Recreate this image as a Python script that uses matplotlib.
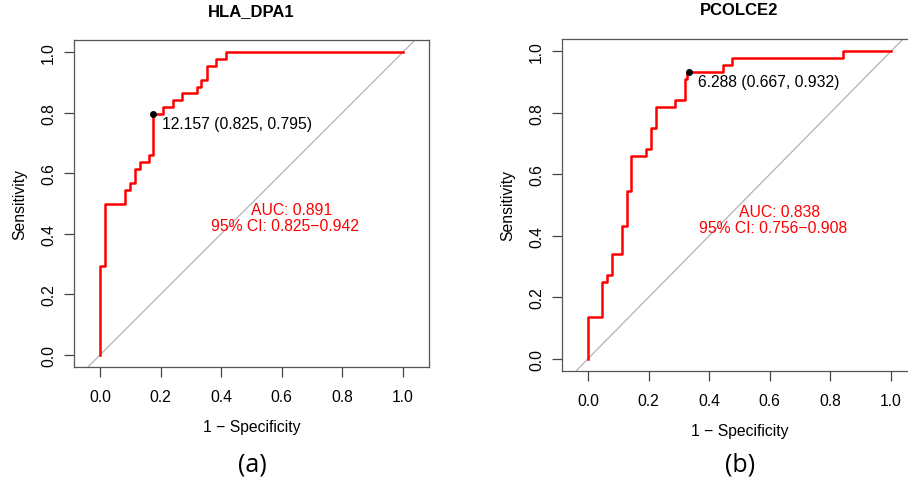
import matplotlib.pyplot as plt

plt.rcParams['font.family'] = ['Liberation Sans', 'DejaVu Sans']

# ROC curve HLA_DPA1 (1 - specificity, sensitivity)
hla_fpr = [0, 0, 0.0165, 0.0825, 0.099, 0.1155, 0.132, 0.163, 0.176, 0.207,
           0.24, 0.27, 0.319, 0.332, 0.352, 0.383, 0.415, 1.0]
hla_tpr = [0, 0.295, 0.5, 0.545, 0.568, 0.614, 0.636, 0.659, 0.795, 0.818,
           0.841, 0.864, 0.886, 0.909, 0.955, 0.977, 1.0, 1.0]

# ROC curve PCOLCE2
pco_fpr = [0, 0, 0.047, 0.062, 0.078, 0.111, 0.128, 0.142, 0.191, 0.207,
           0.223, 0.287, 0.32, 0.328, 0.444, 0.476, 0.843, 1.0]
pco_tpr = [0, 0.136, 0.25, 0.273, 0.341, 0.432, 0.545, 0.659, 0.682, 0.75,
           0.818, 0.841, 0.909, 0.932, 0.955, 0.977, 1.0, 1.0]

titles = ['HLA_DPA1', 'PCOLCE2']
panel_labels = ['(a)', '(b)']
best_points = [(0.175, 0.795), (0.333, 0.932)]
best_labels = ['12.157 (0.825, 0.795)', '6.288 (0.667, 0.932)']
auc_labels = ['AUC: 0.891', 'AUC: 0.838']
ci_labels = ['95% CI: 0.825\u22120.942', '95% CI: 0.756\u22120.908']
ticks = [0.0, 0.2, 0.4, 0.6, 0.8, 1.0]

W, H = 908, 481
fig = plt.figure(figsize=(W / 100, H / 100), dpi=100)

# axes boxes in pixels: left, top, right, bottom
boxes = [(74, 41, 429, 368), (562, 40, 917, 372)]
curves = [(hla_fpr, hla_tpr), (pco_fpr, pco_tpr)]

for i in range(2):
    l, t, r, b = boxes[i]
    ax = fig.add_axes([l / W, (H - b) / H, (r - l) / W, (b - t) / H])
    fpr, tpr = curves[i]

    # chance line
    ax.plot([-0.2, 1.2], [-0.2, 1.2], color='#b3b3b3', lw=0.9)
    ax.plot(fpr, tpr, drawstyle='steps-post', color='#ff0000', lw=1.8)
    ax.plot(*best_points[i], 'o', color='black', ms=4)
    ax.text(best_points[i][0] + 0.03, best_points[i][1] - 0.03, best_labels[i],
            fontsize=11.3, ha='left', va='center')
    ax.text(0.632, 0.48, auc_labels[i], color='#ff0000', fontsize=11.3,
            ha='center', va='center')
    ax.text(0.61, 0.427, ci_labels[i], color='#ff0000', fontsize=11.3,
            ha='center', va='center')

    ax.set_xlim(-0.086, 1.086)
    ax.set_ylim(-0.04, 1.04)
    ax.set_xticks(ticks)
    ax.set_yticks(ticks)
    ax.set_xticklabels(['%.1f' % v for v in ticks])
    ax.set_yticklabels(['%.1f' % v for v in ticks], rotation=90, va='center')
    ax.tick_params(length=7, width=0.9, color='#444444', labelsize=11.3)
    ax.tick_params(axis='x', pad=9)
    ax.tick_params(axis='y', pad=6)
    for s in ax.spines.values():
        s.set_color('#555555')
        s.set_linewidth(0.9)

    ax.set_title(titles[i], fontsize=12, fontweight='bold', pad=18)
    ax.set_xlabel('1 \u2212 Specificity', fontsize=11.3, labelpad=11)
    ax.set_ylabel('Sensitivity', fontsize=11.3, labelpad=10)

    fig.text((l + 178) / W, 1 - 465 / H, panel_labels[i], fontsize=18,
             family='Open Sans', ha='center', va='center')

fig.savefig('out.png', dpi=100)
